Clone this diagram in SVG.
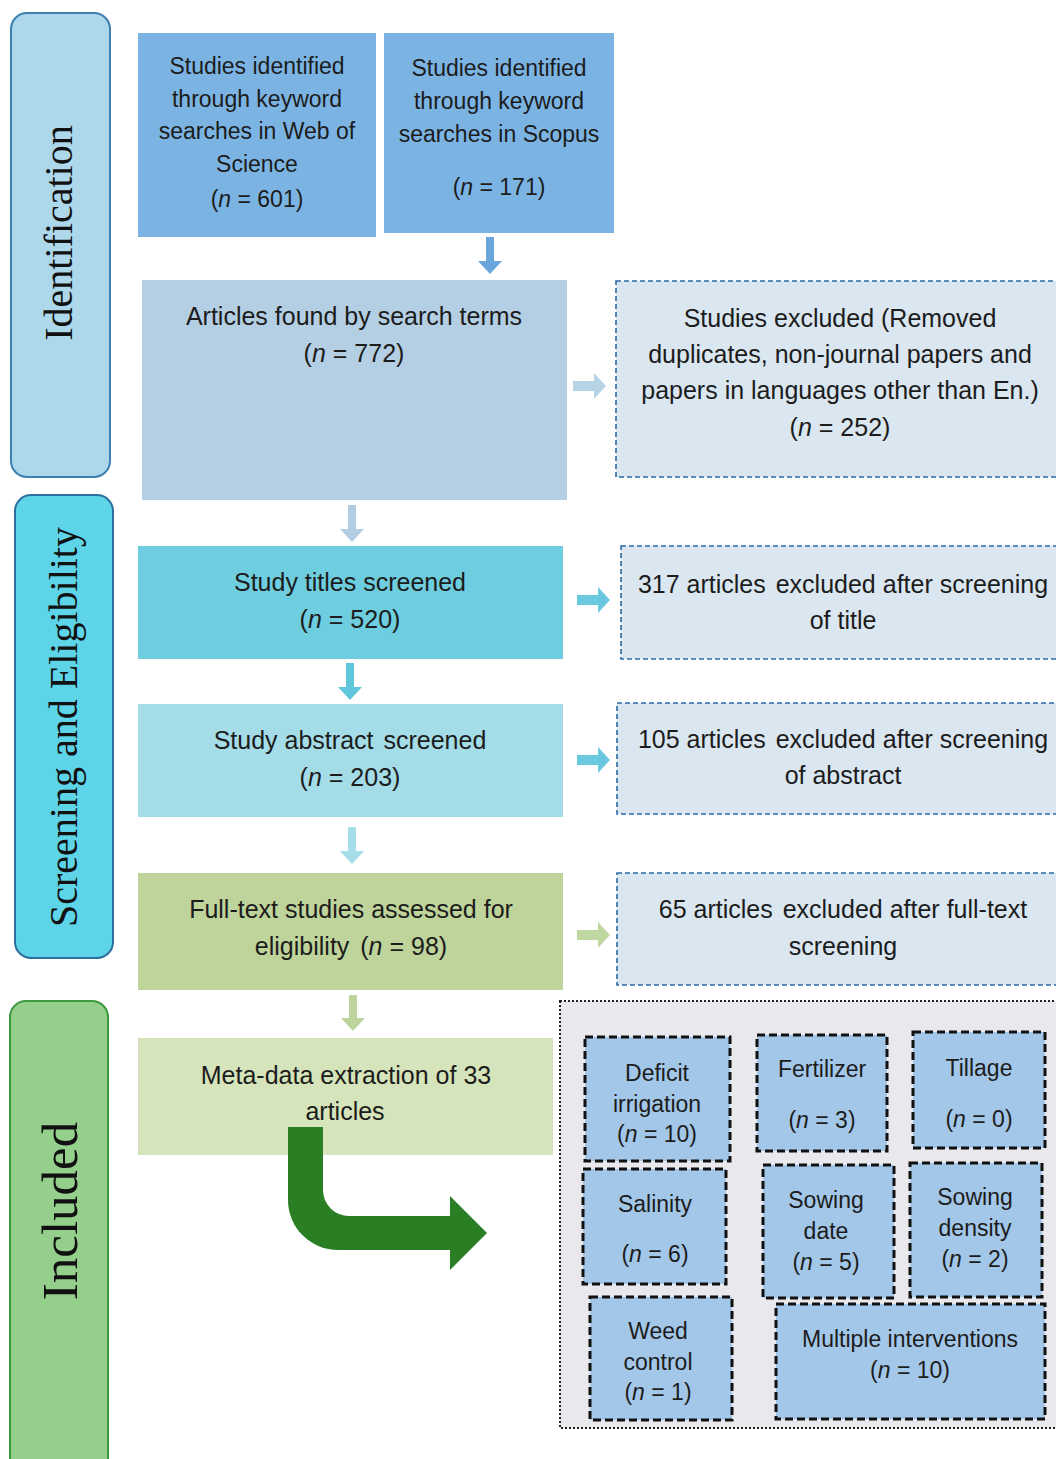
<svg xmlns="http://www.w3.org/2000/svg" width="1056" height="1459" viewBox="0 0 1056 1459">
<style>
text{font-family:"Liberation Sans",Arial,sans-serif;fill:#1c1c1c;text-anchor:middle}
.t23{font-size:23px}
.t25{font-size:25px}
.side{font-family:"Liberation Serif","Times New Roman",serif;font-size:40px;fill:#111}
.excl{fill:#dae6f0;stroke:#2e6aa6;stroke-width:1.6;stroke-dasharray:5 3}
.inner{fill:#a3c7e8;stroke:#111;stroke-width:3;stroke-dasharray:8 4}
.it{font-style:italic}
</style>
<rect width="1056" height="1459" fill="#ffffff"/>

<g id="side-identification">
<rect x="11" y="13" width="99" height="464" rx="16" fill="#add8eb" stroke="#3d7fb0" stroke-width="2"/>
<text class="side" transform="translate(72,233) rotate(-90)">Identification</text>
</g>
<g id="side-screening">
<rect x="15" y="495" width="98" height="463" rx="16" fill="#5dd4e8" stroke="#2a6f9e" stroke-width="2"/>
<text class="side" transform="translate(77,727) rotate(-90)">Screening and Eligibility</text>
</g>
<g id="side-included">
<rect x="10" y="1001" width="98" height="480" rx="16" fill="#94cf8b" stroke="#3e9a3e" stroke-width="2"/>
<text class="side" style="font-size:51px" transform="translate(77,1211) rotate(-90)">Included</text>
</g>

<g id="connectors">
<path d="M486,237 h8 v24 h8 l-12,13 l-12,-13 h8 z" fill="#6aa6dc"/>
<path d="M348,505 h8 v24 h8 l-12,13 l-12,-13 h8 z" fill="#b3cde3"/>
<path d="M346,663 h8 v24 h8 l-12,13 l-12,-13 h8 z" fill="#5fc6dc"/>
<path d="M348,827 h8 v24 h8 l-12,13 l-12,-13 h8 z" fill="#a6dde9"/>
<path d="M349,995 h8 v23 h8 l-12,13 l-12,-13 h8 z" fill="#bdd59d"/>
<path d="M573,381 h21 v-8 l12,13 l-12,13 v-8 h-21 z" fill="#b7d3e6"/>
<path d="M577,595 h21 v-8 l12,13 l-12,13 v-8 h-21 z" fill="#6ac9df"/>
<path d="M577,755 h21 v-8 l12,13 l-12,13 v-8 h-21 z" fill="#6ac9df"/>
<path d="M577,930 h21 v-8 l12,13 l-12,13 v-8 h-21 z" fill="#bfd7a0"/>
</g>

<g id="n-wos">
<rect x="138" y="33" width="238" height="204" fill="#7bb4e3"/>
<text class="t23" x="257" y="74">Studies identified</text>
<text class="t23" x="257" y="107">through keyword</text>
<text class="t23" x="257" y="139">searches in Web of</text>
<text class="t23" x="257" y="172">Science</text>
<text class="t23" x="257" y="207">(<tspan class="it">n</tspan> = 601)</text>
</g>
<g id="n-scopus">
<rect x="384" y="33" width="230" height="200" fill="#7bb4e3"/>
<text class="t23" x="499" y="76">Studies identified</text>
<text class="t23" x="499" y="109">through keyword</text>
<text class="t23" x="499" y="142">searches in Scopus</text>
<text class="t23" x="499" y="195">(<tspan class="it">n</tspan> = 171)</text>
</g>
<g id="n-articles">
<rect x="142" y="280" width="425" height="220" fill="#b4cfe3"/>
<text class="t25" x="354" y="325">Articles found by search terms</text>
<text class="t25" x="354" y="362">(<tspan class="it">n</tspan> = 772)</text>
</g>
<g id="n-excl1">
<rect class="excl" x="616" y="281" width="450" height="196"/>
<text class="t25" x="840" y="327">Studies excluded (Removed</text>
<text class="t25" x="840" y="363">duplicates, non-journal papers and</text>
<text class="t25" x="840" y="399">papers in languages other than En.)</text>
<text class="t25" x="840" y="436">(<tspan class="it">n</tspan> = 252)</text>
</g>
<g id="n-titles">
<rect x="138" y="546" width="425" height="113" fill="#6ecedf"/>
<text class="t25" x="350" y="591">Study titles screened</text>
<text class="t25" x="350" y="628">(<tspan class="it">n</tspan> = 520)</text>
</g>
<g id="n-excl2">
<rect class="excl" x="621" y="546" width="445" height="113"/>
<text class="t25" x="843" y="593">317 articles <tspan dx="3">excluded after screening</tspan></text>
<text class="t25" x="843" y="629">of title</text>
</g>
<g id="n-abstract">
<rect x="138" y="704" width="425" height="113" fill="#a4dce8"/>
<text class="t25" x="350" y="749">Study abstract <tspan dx="3">screened</tspan></text>
<text class="t25" x="350" y="786">(<tspan class="it">n</tspan> = 203)</text>
</g>
<g id="n-excl3">
<rect class="excl" x="617" y="703" width="449" height="111"/>
<text class="t25" x="843" y="748">105 articles <tspan dx="3">excluded after screening</tspan></text>
<text class="t25" x="843" y="784">of abstract</text>
</g>
<g id="n-fulltext">
<rect x="138" y="873" width="425" height="117" fill="#bfd49b"/>
<text class="t25" x="351" y="918">Full-text studies assessed for</text>
<text class="t25" x="351" y="955">eligibility <tspan dx="4">(</tspan><tspan class="it">n</tspan> = 98)</text>
</g>
<g id="n-excl4">
<rect class="excl" x="617" y="873" width="449" height="112"/>
<text class="t25" x="843" y="918">65 articles <tspan dx="3">excluded after full-text</tspan></text>
<text class="t25" x="843" y="955">screening</text>
</g>
<g id="n-meta">
<rect x="138" y="1038" width="415" height="117" fill="#d5e4ba"/>
<text class="t25" x="346" y="1084">Meta-data extraction of 33</text>
<text class="t25" x="345" y="1120">articles</text>
</g>
<g id="big-arrow">
<path d="M288,1127 H323 V1190 A26,26 0 0 0 349,1216 H450 V1196 L487,1233 L450,1270 V1250 H338 A50,50 0 0 1 288,1200 Z" fill="#2a7f25"/>
</g>

<g id="cluster">
<rect x="560" y="1001" width="510" height="427" fill="#e8e8ed" stroke="#222" stroke-width="2" stroke-dasharray="2 2"/>
</g>
<g id="n-deficit">
<rect class="inner" x="585" y="1037" width="145" height="124"/>
<text class="t23" x="657" y="1081">Deficit</text>
<text class="t23" x="657" y="1112">irrigation</text>
<text class="t23" x="657" y="1142">(<tspan class="it">n</tspan> = 10)</text>
</g>
<g id="n-fertilizer">
<rect class="inner" x="757" y="1035" width="130" height="116"/>
<text class="t23" x="822" y="1077">Fertilizer</text>
<text class="t23" x="822" y="1128">(<tspan class="it">n</tspan> = 3)</text>
</g>
<g id="n-tillage">
<rect class="inner" x="913" y="1032" width="132" height="116"/>
<text class="t23" x="979" y="1076">Tillage</text>
<text class="t23" x="979" y="1127">(<tspan class="it">n</tspan> = 0)</text>
</g>
<g id="n-salinity">
<rect class="inner" x="583" y="1169" width="143" height="115"/>
<text class="t23" x="655" y="1212">Salinity</text>
<text class="t23" x="655" y="1262">(<tspan class="it">n</tspan> = 6)</text>
</g>
<g id="n-sowdate">
<rect class="inner" x="763" y="1165" width="131" height="133"/>
<text class="t23" x="826" y="1208">Sowing</text>
<text class="t23" x="826" y="1239">date</text>
<text class="t23" x="826" y="1270">(<tspan class="it">n</tspan> = 5)</text>
</g>
<g id="n-sowdensity">
<rect class="inner" x="910" y="1163" width="132" height="134"/>
<text class="t23" x="975" y="1205">Sowing</text>
<text class="t23" x="975" y="1236">density</text>
<text class="t23" x="975" y="1267">(<tspan class="it">n</tspan> = 2)</text>
</g>
<g id="n-weed">
<rect class="inner" x="590" y="1297" width="142" height="123"/>
<text class="t23" x="658" y="1339">Weed</text>
<text class="t23" x="658" y="1370">control</text>
<text class="t23" x="658" y="1400">(<tspan class="it">n</tspan> = 1)</text>
</g>
<g id="n-multiple">
<rect class="inner" x="776" y="1304" width="269" height="115"/>
<text class="t23" x="910" y="1347">Multiple interventions</text>
<text class="t23" x="910" y="1378">(<tspan class="it">n</tspan> = 10)</text>
</g>
</svg>
